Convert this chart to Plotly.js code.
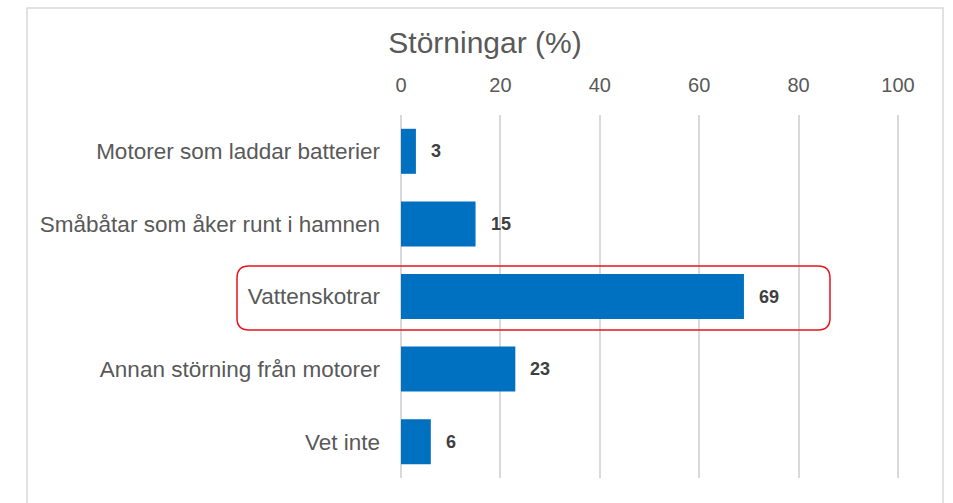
<!DOCTYPE html>
<html>
<head>
<meta charset="utf-8">
<script src="https://cdn.plot.ly/plotly-3.0.1.min.js"></script>
<style>
html,body{margin:0;padding:0;background:#fff;}
#chart{width:953px;height:503px;}
</style>
</head>
<body>
<div id="chart"></div>
<script>
const categories = ["Motorer som laddar batterier", "Småbåtar som åker runt i hamnen", "Vattenskotrar", "Annan störning från motorer", "Vet inte"];
const values = [3, 15, 69, 23, 6];
const tickVals = [0, 20, 40, 60, 80, 100];
const tickText = ["0", "20", "40", "60", "80", "100"];
const titleText = "Störningar (%)";

const W = 953, H = 503;
const M = {l: 401, r: 50, t: 115, b: 25};
const PW = W - M.l - M.r, PH = H - M.t - M.b;
const px2x = p => (p - M.l) / PW;
const py2y = p => (H - M.b - p) / PH;

function roundRectPath(x0, y0, x1, y1, r) {
  const X = px2x, Y = py2y;
  return "M" + X(x0 + r) + "," + Y(y0) +
    " L" + X(x1 - r) + "," + Y(y0) +
    " Q" + X(x1) + "," + Y(y0) + " " + X(x1) + "," + Y(y0 + r) +
    " L" + X(x1) + "," + Y(y1 - r) +
    " Q" + X(x1) + "," + Y(y1) + " " + X(x1 - r) + "," + Y(y1) +
    " L" + X(x0 + r) + "," + Y(y1) +
    " Q" + X(x0) + "," + Y(y1) + " " + X(x0) + "," + Y(y1 - r) +
    " L" + X(x0) + "," + Y(y0 + r) +
    " Q" + X(x0) + "," + Y(y0) + " " + X(x0 + r) + "," + Y(y0) + " Z";
}

const font = "Liberation Sans, Arial, sans-serif";

const trace = {
  type: "bar",
  orientation: "h",
  x: values,
  y: categories,
  marker: {color: "#0070C0"},
  hoverinfo: "none"
};

const annotations = values.map((v, i) => ({
  x: v, y: categories[i], xref: "x", yref: "y",
  text: String(v), showarrow: false, xanchor: "left", yanchor: "middle",
  xshift: 13,
  font: {family: font, size: 18, color: "#404040", weight: "bold"}
}));

const layout = {
  width: W, height: H,
  margin: M,
  paper_bgcolor: "#ffffff",
  plot_bgcolor: "#ffffff",
  showlegend: false,
  bargap: 0.38,
  font: {family: font, color: "#595959"},
  title: {
    text: titleText,
    font: {family: font, size: 30, color: "#595959"},
    xref: "container", x: 485 / W, xanchor: "center",
    yref: "container", y: 1 - 42 / H, yanchor: "middle"
  },
  xaxis: {
    side: "top",
    range: [0, 101],
    tickvals: tickVals,
    ticktext: tickText,
    showgrid: true,
    gridcolor: "#d9d9d9",
    gridwidth: 2,
    zeroline: false,
    showline: false,
    ticks: "",
    ticklabelstandoff: 18,
    tickfont: {family: font, size: 20, color: "#595959"},
    fixedrange: true
  },
  yaxis: {
    autorange: "reversed",
    showgrid: false,
    zeroline: false,
    showline: false,
    ticks: "",
    ticklabelstandoff: 20,
    tickfont: {family: font, size: 22.5, color: "#595959"},
    fixedrange: true
  },
  annotations: annotations,
  shapes: [
    {
      type: "rect", xref: "paper", yref: "paper",
      x0: px2x(27), x1: px2x(943), y0: py2y(520), y1: py2y(8),
      line: {color: "#d9d9d9", width: 1.5}, fillcolor: "rgba(0,0,0,0)", layer: "below"
    },
    {
      type: "line", xref: "paper", yref: "paper",
      x0: 0, x1: 0, y0: 0, y1: 1,
      line: {color: "#d9d9d9", width: 2}, layer: "below"
    },
    {
      type: "path", xref: "paper", yref: "paper",
      path: roundRectPath(237, 266, 830, 330, 12),
      line: {color: "#e8141b", width: 1.5}, fillcolor: "rgba(0,0,0,0)", layer: "above"
    }
  ]
};

Plotly.newPlot("chart", [trace], layout, {displayModeBar: false, staticPlot: true});
</script>
</body>
</html>
